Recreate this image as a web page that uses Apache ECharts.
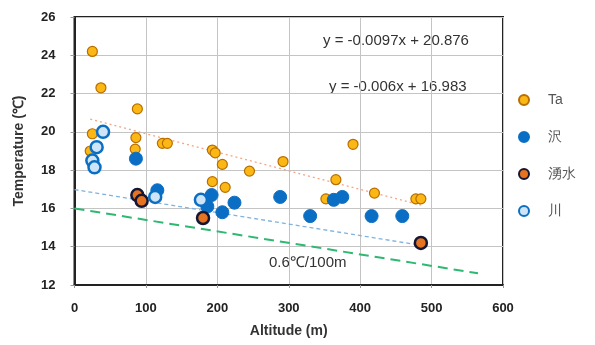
<!DOCTYPE html>
<html>
<head>
<meta charset="utf-8">
<script src="https://cdn.jsdelivr.net/npm/echarts@6/dist/echarts.min.js"></script>
<style>
html, body { margin: 0; padding: 0; background: #fff; }
#echart { width: 595px; height: 345px; }
</style>
</head>
<body>
<div id="echart"></div>
<script>
// Data (altitude m, temperature C)
var taData = [
	[25, 24.2], [37, 22.3], [88, 21.2], [25, 19.9], [22, 19.0], [86, 19.7],
	[85, 19.1], [123, 19.4], [130, 19.4], [193, 19.05], [197, 18.9], [390, 19.35],
	[207, 18.3], [193, 17.4], [211, 17.1], [245, 17.95], [292, 18.45], [366, 17.5],
	[352, 16.5], [420, 16.8], [478, 16.5], [485, 16.5]
];
var sawaData = [
	[86, 18.6], [116, 16.95], [192, 16.7], [186, 16.1], [207, 15.8], [224, 16.3],
	[288, 16.6], [330, 15.6], [363, 16.45], [375, 16.6], [416, 15.6], [459, 15.6]
];
var wakimizuData = [[88, 16.7], [94, 16.4], [180, 15.5], [485, 14.2]];
var kawaData = [[40, 20.0], [31, 19.2], [25, 18.5], [28, 18.15], [113, 16.6], [177, 16.45]];

// trend lines: [slope, intercept, xFrom, xTo]
var trendTa = [-0.0097, 20.876, 22, 485];
var trendWater = [-0.006, 16.983, 0, 485];
var lapseRate = [-0.006, 16, 0, 565];

var legendNames = ['Ta', '沢', '湧水', '川'];

function lineOf(t) {
	return [[t[2], t[0] * t[2] + t[1]], [t[3], t[0] * t[3] + t[1]]];
}

var myChart = echarts.init(document.getElementById('echart'));
var labelFont = '"Liberation Sans", Arial, sans-serif';
var noteFont = '15px "Liberation Sans", Arial, sans-serif';

var option = {
	animation: false,
	grid: {
		left: 74.5,
		right: 92,
		top: 17,
		bottom: 60,
		show: true,
		borderColor: '#222',
		borderWidth: 2
	},
	legend: {
		data: legendNames,
		orient: 'vertical',
		left: 513,
		top: 88,
		itemWidth: 10,
		itemHeight: 10,
		itemGap: 23,
		textStyle: { color: '#555', fontSize: 14, fontFamily: labelFont, padding: [0, 0, 0, 14] }
	},
	xAxis: {
		type: 'value',
		min: 0,
		max: 600,
		interval: 100,
		name: 'Altitude (m)',
		nameLocation: 'middle',
		nameGap: 39,
		nameTextStyle: { color: '#333', fontSize: 14, fontWeight: 'bold', fontFamily: labelFont },
		axisLine: { show: true, lineStyle: { color: '#222', width: 2 } },
		axisTick: { show: true, length: 3, lineStyle: { color: '#999' } },
		axisLabel: { color: '#222', fontSize: 13, fontWeight: 'bold', fontFamily: labelFont, margin: 17 },
		splitLine: { show: true, lineStyle: { color: '#c4c4c4', width: 1 } }
	},
	yAxis: {
		type: 'value',
		min: 12,
		max: 26,
		interval: 2,
		name: 'Temperature (\u2103)',
		nameLocation: 'middle',
		nameGap: 48,
		nameTextStyle: { color: '#333', fontSize: 14, fontWeight: 'bold', fontFamily: labelFont },
		axisLine: { show: true, lineStyle: { color: '#222', width: 2 } },
		axisTick: { show: true, length: 4, lineStyle: { color: '#999' } },
		axisLabel: { color: '#222', fontSize: 13, fontWeight: 'bold', fontFamily: labelFont, margin: 19 },
		splitLine: { show: true, lineStyle: { color: '#c4c4c4', width: 1 } }
	},
	series: [{
		name: 'lapse',
		type: 'line',
		data: lineOf(lapseRate),
		symbol: 'none',
		silent: true,
		lineStyle: { color: '#2eb872', width: 2, type: [10, 6] },
		z: 1
	}, {
		name: 'trendTa',
		type: 'line',
		data: lineOf(trendTa),
		symbol: 'none',
		silent: true,
		lineStyle: { color: '#f4a582', width: 1.3, type: [2, 3] },
		z: 1
	}, {
		name: 'trendWater',
		type: 'line',
		data: lineOf(trendWater),
		symbol: 'none',
		silent: true,
		lineStyle: { color: '#7fb2de', width: 1.3, type: [4, 3] },
		z: 1
	}, {
		name: 'Ta',
		type: 'scatter',
		data: taData,
		symbolSize: 10,
		itemStyle: { color: '#fbb714', borderColor: '#b86e00', borderWidth: 1.2, opacity: 1 },
		z: 3
	}, {
		name: '沢',
		type: 'scatter',
		data: sawaData,
		symbolSize: 13,
		itemStyle: { color: '#0a6fc4', borderColor: '#0a6fc4', borderWidth: 1, opacity: 1 },
		z: 4
	}, {
		name: '湧水',
		type: 'scatter',
		data: wakimizuData,
		symbolSize: 12,
		itemStyle: { color: '#e5731f', borderColor: '#141633', borderWidth: 2.5, opacity: 1 },
		z: 5
	}, {
		name: '川',
		type: 'scatter',
		data: kawaData,
		symbolSize: 12,
		itemStyle: { color: '#cfe4f6', borderColor: '#0a6fc4', borderWidth: 2.5, opacity: 1 },
		z: 6
	}],
	graphic: [{
		type: 'text',
		left: 323,
		top: 33,
		style: { text: 'y = -0.0097x + 20.876', fill: '#333', font: noteFont }
	}, {
		type: 'text',
		left: 329,
		top: 79,
		style: { text: 'y = -0.006x + 16.983', fill: '#333', font: noteFont }
	}, {
		type: 'text',
		left: 269,
		top: 255,
		style: { text: '0.6\u2103/100m', fill: '#333', font: noteFont }
	}]
};
myChart.setOption(option);
</script>
</body>
</html>
